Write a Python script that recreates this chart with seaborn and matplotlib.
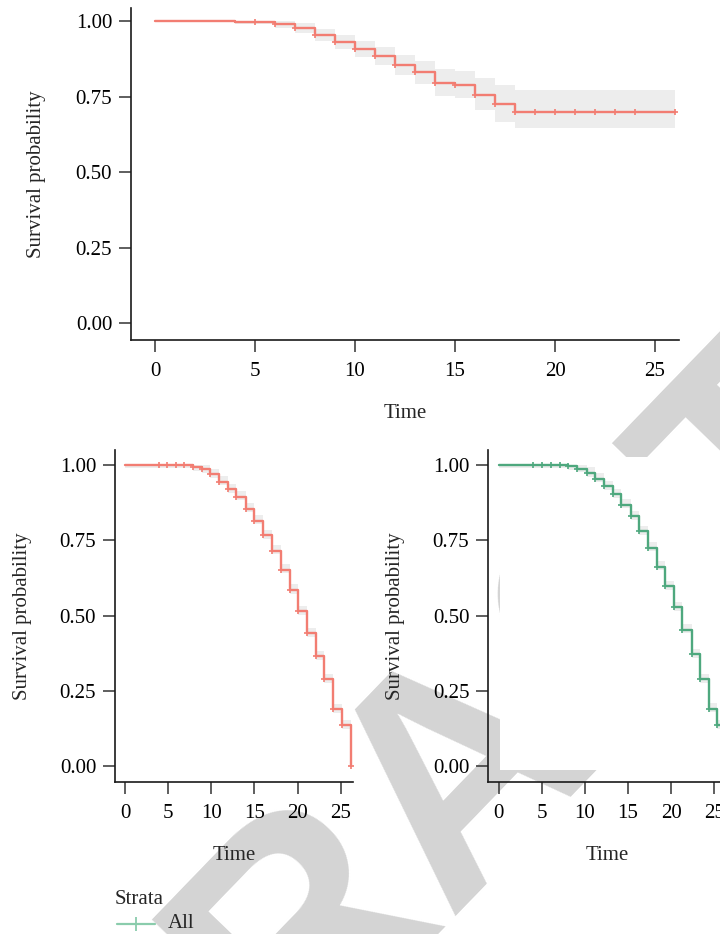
import numpy as np
import pandas as pd
import matplotlib
matplotlib.use("Agg")
import matplotlib.pyplot as plt
import seaborn as sns
from matplotlib.lines import Line2D
from matplotlib.patches import Rectangle

# ---------------- data ----------------
# Top panel (overall KM curve)
top_time = [0, 4, 6, 7, 8, 9, 10, 11, 12, 13, 14, 15, 16, 17, 18, 26]
top_surv = [1.000, 0.997, 0.990, 0.976, 0.954, 0.929, 0.907, 0.883, 0.854,
            0.830, 0.796, 0.788, 0.755, 0.725, 0.700, 0.700]
top_lower = [1.000, 0.990, 0.978, 0.960, 0.935, 0.906, 0.880, 0.853, 0.820,
             0.793, 0.752, 0.744, 0.705, 0.667, 0.645, 0.645]
top_upper = [1.000, 1.000, 1.000, 0.993, 0.975, 0.953, 0.935, 0.914, 0.888,
             0.866, 0.840, 0.834, 0.810, 0.788, 0.772, 0.772]
top_cens = [5, 6, 7, 8, 9, 10, 11, 12, 13, 14, 15, 16, 17, 18, 19, 20, 21,
            22, 23, 24, 26]

# Bottom-left panel (red)
bl_time = [0, 7.9, 8.9, 9.9, 10.9, 11.9, 12.9, 14.0, 15.0, 16.0, 17.0, 18.1,
           19.1, 20.1, 21.1, 22.1, 23.1, 24.15, 25.1, 26.2]
bl_surv = [1.000, 0.993, 0.985, 0.968, 0.944, 0.919, 0.894, 0.854, 0.814,
           0.767, 0.715, 0.652, 0.585, 0.514, 0.442, 0.365, 0.289, 0.189,
           0.137, 0.0]
bl_early_cens = [3.9, 4.85, 5.85, 6.85]

# Bottom-right panel (green)
br_time = [0, 8.07, 9.1, 10.2, 11.2, 12.2, 13.2, 14.2, 15.3, 16.3, 17.3, 18.3,
           19.3, 20.3, 21.3, 22.4, 23.3, 24.4, 25.3, 26.3]
br_surv = [1.000, 0.995, 0.987, 0.973, 0.954, 0.929, 0.903, 0.867, 0.829,
           0.780, 0.725, 0.662, 0.598, 0.527, 0.453, 0.371, 0.289, 0.191,
           0.136, 0.0]
br_early_cens = [4.0, 5.05, 6.1, 7.1]

x_ticks = [0, 5, 10, 15, 20, 25]
y_ticks = [0.00, 0.25, 0.50, 0.75, 1.00]
y_ticklabels = ["0.00", "0.25", "0.50", "0.75", "1.00"]
legend_title = "Strata"
legend_label = "All"
watermark = "RETRACTED"

RED = "#F27D72"
GREEN = "#4EA87E"
BAND = "#EDEDED"

# ---------------- style ----------------
sns.set_style("ticks")
plt.rcParams["font.family"] = ["Liberation Serif", "DejaVu Serif"]
plt.rcParams["font.size"] = 15

W, H = 720, 934
fig = plt.figure(figsize=(W / 100, H / 100), dpi=100)


def ax_at(x0, y0, x1, y1):
    return fig.add_axes([x0 / W, 1 - y1 / H, (x1 - x0) / W, (y1 - y0) / H])


def style_axes(ax, xlim, ylim, ylab_x):
    ax.set_facecolor("none")
    ax.set_xlim(*xlim)
    ax.set_ylim(*ylim)
    ax.set_xticks(x_ticks)
    ax.set_xticklabels([str(v) for v in x_ticks])
    ax.set_yticks(y_ticks)
    ax.set_yticklabels(y_ticklabels)
    for s in ["top", "right"]:
        ax.spines[s].set_visible(False)
    for s in ["left", "bottom"]:
        ax.spines[s].set_linewidth(1.2)
        ax.spines[s].set_color("#1a1a1a")
    ax.tick_params(axis="both", direction="out", length=8.5, width=1.1,
                   color="#333333", labelsize=15, labelcolor="black", pad=5)
    ax.tick_params(axis="x", pad=7)
    ax.set_xlabel("Time", fontsize=15)
    ax.set_ylabel("Survival probability", fontsize=15)
    ax.xaxis.label.set_va("center")
    ax.yaxis.label.set_va("center")
    ax.xaxis.set_label_coords(0.5, -74 / 332)
    ax.yaxis.set_label_coords(ylab_x, 0.5)


def draw_curve(ax, t, s, color, cens_t, cens_s, lower=None, upper=None,
               msize=24):
    if lower is not None:
        ax.fill_between(t, lower, upper, step="post", color=BAND, lw=0,
                        zorder=1)
    df = pd.DataFrame({"Time": t, "Survival": s})
    sns.lineplot(data=df, x="Time", y="Survival", ax=ax, color=color,
                 lw=1.7, drawstyle="steps-post", estimator=None, sort=False,
                 zorder=3)
    cdf = pd.DataFrame({"Time": cens_t, "Survival": cens_s})
    sns.scatterplot(data=cdf, x="Time", y="Survival", ax=ax, marker="+",
                    s=msize, color=color, linewidth=1.2, zorder=4)


def level_at(t_steps, s_steps, tt):
    idx = np.searchsorted(np.asarray(t_steps), np.asarray(tt), side="right") - 1
    return [s_steps[i] for i in idx]


# Watermark (behind everything)
wm_angle = 46
wm_cx, wm_cy = 464, 768
fig.text(wm_cx / W, 1 - wm_cy / H, watermark, rotation=wm_angle, fontsize=226,
         fontweight="bold", family="Liberation Sans", color="#D4D4D4",
         ha="center", va="center", zorder=-5)

# ---- top panel ----
ax1 = ax_at(131, 8, 679, 340)
style_axes(ax1, (-1.2, 26.2), (-0.056, 1.043), -94 / 548)
draw_curve(ax1, top_time, top_surv, RED, top_cens,
           level_at(top_time, top_surv, top_cens), top_lower, top_upper,
           msize=22)

# ---- bottom-left panel ----
ax2 = ax_at(115, 450, 352.6, 782)
style_axes(ax2, (-1.16, 26.37), (-0.052, 1.049), -92.5 / 237.6)
ax2.add_patch(Rectangle((0.2, -0.012), 26.3, 1.038, fc="white", ec="none",
                        zorder=0.5))
bl_lower = [max(v - 0.012, 0) for v in bl_surv]
bl_upper = [min(v + 0.018, 1.0) for v in bl_surv]
bl_cens = bl_early_cens + bl_time[1:]
draw_curve(ax2, bl_time, bl_surv, RED, bl_cens,
           level_at(bl_time, bl_surv, bl_cens), bl_lower, bl_upper)

# ---- bottom-right panel ----
ax3 = ax_at(488, 450, 725.6, 782)
style_axes(ax3, (-1.23, 26.3), (-0.052, 1.049), -92.5 / 237.6)
ax3.add_patch(Rectangle((0.15, -0.012), 30, 1.038, fc="white", ec="none",
                        zorder=0.5))
br_lower = [max(v - 0.012, 0) for v in br_surv]
br_upper = [min(v + 0.018, 1.0) for v in br_surv]
br_cens = br_early_cens + br_time[1:]
draw_curve(ax3, br_time, br_surv, GREEN, br_cens,
           level_at(br_time, br_surv, br_cens), br_lower, br_upper)

# ---- legend ----
fig.text(115 / W, 1 - 899 / H, legend_title, fontsize=15, ha="left",
         va="center")
fig.add_artist(Line2D([117 / W, 155 / W], [1 - 924 / H, 1 - 924 / H],
                      color="#8ACCAC", lw=1.6))
fig.add_artist(Line2D([136 / W], [1 - 924 / H], marker="+", markersize=10,
                      mew=1.3, color="#8ACCAC", lw=0))
fig.text(168 / W, 1 - 924 / H, legend_label, fontsize=15, ha="left",
         va="center")

fig.savefig("out.png", dpi=100)
